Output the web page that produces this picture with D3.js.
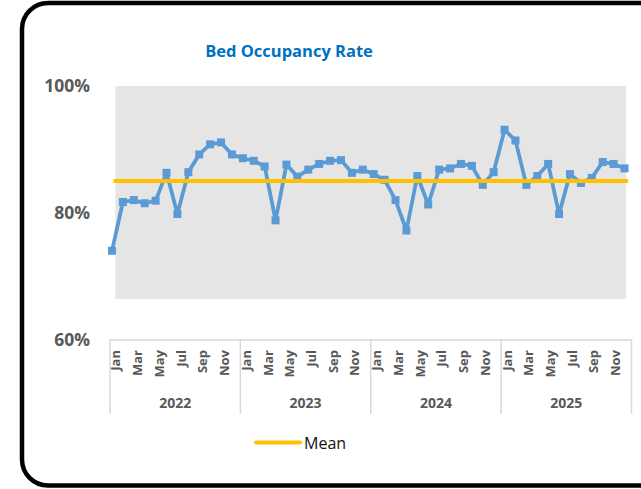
<!DOCTYPE html>
<html>
<head>
<meta charset="utf-8">
<script src="https://cdn.jsdelivr.net/npm/d3@7"></script>
<style>
  html, body { margin: 0; padding: 0; background: #fff; }
  svg { display: block; font-family: "Open Sans", "Noto Sans", sans-serif; }
</style>
</head>
<body>
<div id="chart"></div>
<script>
// data
var years = ["2022", "2023", "2024", "2025"];
var months = ["Jan", "Feb", "Mar", "Apr", "May", "Jun", "Jul", "Aug", "Sep", "Oct", "Nov", "Dec"];
var occupancy = [
    0.740, 0.817, 0.820, 0.815, 0.819, 0.863, 0.798, 0.864, 0.892, 0.908, 0.911, 0.892,
    0.886, 0.882, 0.873, 0.788, 0.876, 0.857, 0.868, 0.877, 0.882, 0.883, 0.863, 0.868,
    0.861, 0.852, 0.820, 0.772, 0.858, 0.813, 0.868, 0.870, 0.877, 0.874, 0.844, 0.864,
    0.931, 0.914, 0.844, 0.858, 0.877, 0.798, 0.861, 0.847, 0.855, 0.880, 0.877, 0.870
];
var meanValue = 0.85;
var bandRange = [0.664, 1.0];
var yTicks = [0.6, 0.8, 1.0];

var attrs = {
    width: 641,
    height: 489,
    plotLeft: 110,
    plotRight: 631.5,
    plotTop: 86,
    plotBottom: 339.5,
    lineColor: "#5B9BD5",
    meanColor: "#FFC000",
    bandColor: "#E5E5E5",
    axisColor: "#D9D9D9",
    textColor: "#595959",
    titleColor: "#0070C0"
};

var points = [];
years.forEach(function(y, yi){
    months.forEach(function(m, mi){
        points.push({ key: y + "-" + m, year: y, month: m, mi: mi, value: occupancy[yi * 12 + mi] });
    });
});

var svg = d3.select("#chart").append("svg")
    .attr("width", attrs.width)
    .attr("height", attrs.height);

// frame
svg.append("rect")
    .attr("x", 22).attr("y", 3)
    .attr("width", 660).attr("height", 482.5)
    .attr("rx", 26).attr("ry", 26)
    .style("fill", "#fff")
    .style("stroke", "#000")
    .style("stroke-width", 4.5);

svg.append("text")
    .attr("x", 289).attr("y", 57)
    .attr("text-anchor", "middle")
    .style("font-size", "16.5px")
    .style("font-weight", "bold")
    .style("fill", attrs.titleColor)
    .text("Bed Occupancy Rate");

var keys = points.map(function(d){ return d.key; });

var xBand = d3.scaleBand()
    .domain(keys)
    .range([attrs.plotLeft, attrs.plotRight]);

// the line series sits a little left of the band centres in the original
var xLine = d3.scalePoint()
    .domain(keys)
    .range([112, 624.5]);

var y = d3.scaleLinear()
    .domain([0.6, 1.0])
    .range([attrs.plotBottom, attrs.plotTop]);

function cx(d){ return xBand(d.key) + xBand.bandwidth() / 2; }

// grey band
var band = d3.area()
    .x(cx)
    .y0(y(bandRange[0]))
    .y1(y(bandRange[1]));
svg.append("path")
    .datum(points)
    .attr("d", band)
    .style("fill", attrs.bandColor);

// y labels
svg.selectAll(".ylab").data(yTicks).enter()
    .append("text")
    .attr("class", "ylab")
    .attr("x", 90)
    .attr("y", function(d){ return y(d); })
    .attr("dy", "0.36em")
    .attr("text-anchor", "end")
    .style("font-size", "17.5px")
    .style("font-weight", "bold")
    .style("fill", attrs.textColor)
    .text(d3.format(".0%"));

// category axis
var axisG = svg.append("g");
axisG.append("line")
    .attr("x1", attrs.plotLeft).attr("x2", attrs.plotRight)
    .attr("y1", attrs.plotBottom + 0.5).attr("y2", attrs.plotBottom + 0.5)
    .style("stroke", attrs.axisColor).style("stroke-width", 1.5);

var xYear = d3.scaleBand()
    .domain(years)
    .range([attrs.plotLeft, attrs.plotRight]);

axisG.selectAll(".ysep").data(years.concat(["end"])).enter()
    .append("line")
    .attr("x1", function(d, i){ return attrs.plotLeft + i * xYear.bandwidth(); })
    .attr("x2", function(d, i){ return attrs.plotLeft + i * xYear.bandwidth(); })
    .attr("y1", attrs.plotBottom)
    .attr("y2", 414)
    .style("stroke", attrs.axisColor).style("stroke-width", 1.5);

axisG.selectAll(".mlab").data(points.filter(function(d){ return d.mi % 2 === 0; })).enter()
    .append("text")
    .attr("transform", function(d){ return "translate(" + (cx(d) + 5) + ",350) rotate(-90)"; })
    .attr("text-anchor", "end")
    .style("font-size", "13px")
    .style("font-weight", "bold")
    .style("fill", attrs.textColor)
    .text(function(d){ return d.month; });

axisG.selectAll(".yrlab").data(years).enter()
    .append("text")
    .attr("x", function(d){ return xYear(d) + xYear.bandwidth() / 2; })
    .attr("y", 403)
    .attr("dy", "0.36em")
    .attr("text-anchor", "middle")
    .style("font-size", "14px")
    .style("font-weight", "bold")
    .style("fill", attrs.textColor)
    .text(function(d){ return d; });

// occupancy line
var line = d3.line()
    .x(function(d){ return xLine(d.key); })
    .y(function(d){ return y(d.value); });

svg.append("path")
    .datum(points)
    .attr("d", line)
    .style("fill", "none")
    .style("stroke", attrs.lineColor)
    .style("stroke-width", 3.75)
    .style("stroke-linejoin", "round");

svg.selectAll(".marker").data(points).enter()
    .append("rect")
    .attr("x", function(d){ return xLine(d.key) - 4; })
    .attr("y", function(d){ return y(d.value) - 4; })
    .attr("width", 8).attr("height", 8)
    .style("fill", attrs.lineColor);

// mean line
svg.append("line")
    .attr("x1", cx(points[0]) - 2)
    .attr("x2", cx(points[points.length - 1]) + 2)
    .attr("y1", y(meanValue)).attr("y2", y(meanValue))
    .style("stroke", attrs.meanColor)
    .style("stroke-width", 4);

// legend
var leg = svg.append("g");
leg.append("line")
    .attr("x1", 256).attr("x2", 300)
    .attr("y1", 442.5).attr("y2", 442.5)
    .style("stroke", attrs.meanColor)
    .style("stroke-width", 4)
    .style("stroke-linecap", "round");
leg.append("text")
    .attr("x", 304).attr("y", 443)
    .attr("dy", "0.36em")
    .style("font-size", "16px")
    .style("fill", "#111")
    .text("Mean");
</script>
</body>
</html>
